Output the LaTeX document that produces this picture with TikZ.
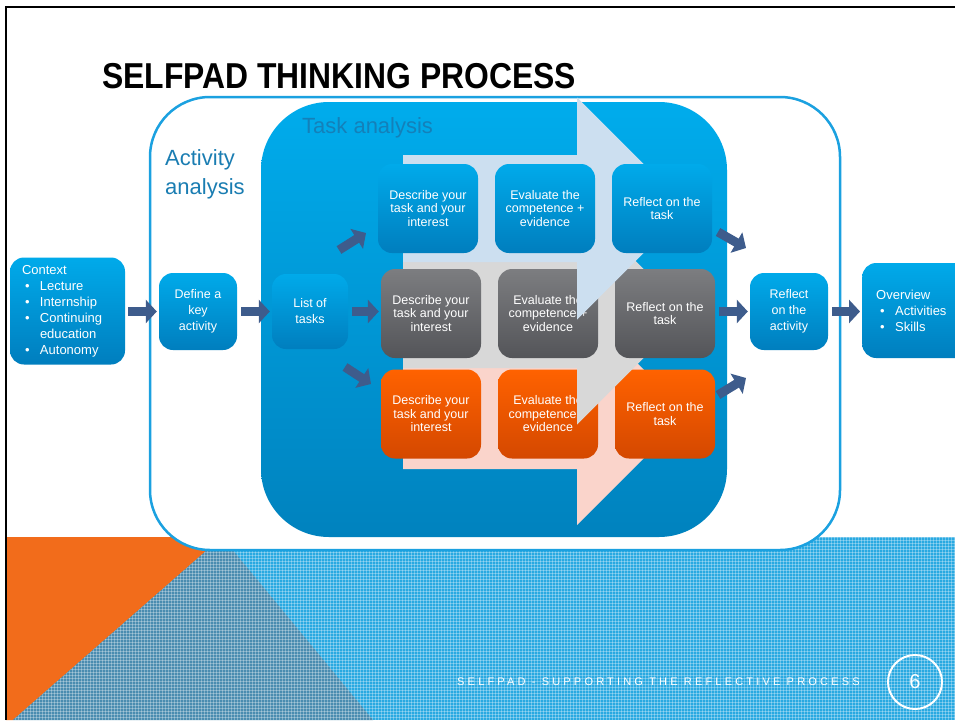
\documentclass[tikz,border=0pt]{standalone}
\usepackage{fontspec}
\setmainfont{Liberation Sans}
\usetikzlibrary{arrows.meta,patterns}

\definecolor{bandblue}{RGB}{41,169,225}
\definecolor{slideorange}{RGB}{242,108,27}
\definecolor{darkwedge}{RGB}{74,140,176}
\definecolor{actblue}{RGB}{27,161,224}
\definecolor{actlbl}{RGB}{26,125,178}
\definecolor{tasktop}{RGB}{0,172,236}
\definecolor{taskbot}{RGB}{0,130,190}
\definecolor{tasklbl}{RGB}{20,128,185}
\definecolor{bluetop}{RGB}{0,170,234}
\definecolor{bluebot}{RGB}{0,126,190}
\definecolor{greytop}{RGB}{124,125,128}
\definecolor{greybot}{RGB}{84,85,89}
\definecolor{orangetop}{RGB}{255,98,0}
\definecolor{orangebot}{RGB}{212,72,0}
\definecolor{arrlblue}{RGB}{204,223,240}
\definecolor{arrgrey}{RGB}{216,216,216}
\definecolor{arrpink}{RGB}{250,212,203}
\definecolor{blockblue}{RGB}{62,92,140}

\tikzset{
  actbox/.style={draw=actblue, line width=2.5pt, fill=white, rounded corners=60pt},
  taskbox/.style={rounded corners=68pt, top color=tasktop, bottom color=taskbot},
  stepbox/.style={rounded corners=14pt, minimum width=100pt, minimum height=89pt,
    inner sep=2pt, align=center, text=white, font=\fontsize{12.5}{13.5}\selectfont},
  bluebox/.style={stepbox, top color=bluetop, bottom color=bluebot},
  greybox/.style={stepbox, top color=greytop, bottom color=greybot},
  orangebox/.style={stepbox, top color=orangetop, bottom color=orangebot},
  sidebox/.style={rounded corners=14pt, top color=bluetop, bottom color=bluebot,
    inner sep=2pt, align=center, text=white, font=\fontsize{12.5}{16}\selectfont},
  blockarr/.style={line width=9pt, draw=blockblue, -{Triangle[length=11pt,width=23pt]}},
}
\newcommand{\blt}{\makebox[18pt][l]{\hspace{3pt}\textbullet}}

\begin{document}
\begin{tikzpicture}[x=1pt,y=-1pt]
\clip (0,0) rectangle (955,720);
\fill[white] (0,0) rectangle (955,720);
% bottom band
\fill[bandblue] (6,537) rectangle (955,720);
\fill[slideorange] (6,537) -- (222,537) -- (13,720) -- (6,720) -- cycle;
\fill[darkwedge] (222,537) -- (373,720) -- (13,720) -- cycle;
\fill[pattern=grid, pattern color=white, opacity=.3] (222,537) -- (955,537) -- (955,720) -- (13,720) -- cycle;
\draw[line width=2pt] (6,720) -- (6,7) -- (955,7);

\node[anchor=base west, inner sep=0, font=\bfseries\fontsize{36}{36}\selectfont] (title) at (102,88)
  {\scalebox{0.885}[1]{SELFPAD THINKING PROCESS}};

% activity and task analysis
\node[actbox, minimum width=690pt, minimum height=453pt] (act) at (495,323.5) {};
\node[anchor=north west, align=left, inner sep=0, text=actlbl, font=\fontsize{22}{29}\selectfont] (actname) at (165,149) {Activity\\analysis};
\node[taskbox, minimum width=466pt, minimum height=435pt] (task) at (494,319.5) {};
\node[anchor=west, inner sep=0, text=tasklbl, font=\fontsize{22}{22}\selectfont] (taskname) at (302,128) {Task analysis};

% rows: big arrow behind, then the three steps
\foreach \rw/\hc/\bt/\bb/\ac/\bc/\bx in {3/414/368/469/arrpink/orangebox/381,
    2/313.5/262/368/arrgrey/greybox/381, 1/208.5/155/262/arrlblue/bluebox/378}{
  \fill[\ac] (403,\bt) -- (577,\bt) -- (577,\hc-111) -- (688,\hc) -- (577,\hc+111) -- (577,\bb) -- (403,\bb) -- cycle;
  \node[\bc] (d\rw) at (\bx+50,\hc) {Describe your\\task and your\\interest};
  \node[\bc] (e\rw) at (\bx+167,\hc) {Evaluate the\\competence +\\evidence};
  \node[\bc] (r\rw) at (\bx+284,\hc) {Reflect on the\\task};
}

% outer boxes
\node[sidebox, minimum width=115pt, minimum height=107pt, text width=91pt, inner xsep=12pt, align=left,
  font=\fontsize{13}{16}\selectfont] (ctx) at (67.5,311)
  {Context\\\blt Lecture\\\blt Internship\\\blt Continuing\\\hspace*{18pt}education\\\blt Autonomy};
\node[sidebox, minimum width=78pt, minimum height=77pt] (def) at (198,311.5) {Define a\\key\\activity};
\node[sidebox, minimum width=76pt, minimum height=75pt] (list) at (310,311.5) {List of\\tasks};
\node[sidebox, minimum width=78pt, minimum height=77pt] (ra) at (789,311.5) {Reflect\\on the\\activity};
\node[sidebox, anchor=west, minimum width=130pt, minimum height=95pt, text width=102pt, inner xsep=14pt, align=left,
  font=\fontsize{13}{16}\selectfont] (ov) at (862,310.5)
  {Overview\\\hspace*{1pt}\blt Activities\\\hspace*{1pt}\blt Skills};

% block arrows
\coordinate (a1s) at (339,250); \coordinate (a1e) at (366,233);
\coordinate (a3s) at (345,367); \coordinate (a3e) at (371,384);
\coordinate (b1s) at (718,232); \coordinate (b1e) at (746,248);
\coordinate (b3s) at (718,395); \coordinate (b3e) at (746,378);
\draw[blockarr, shorten <=3pt, shorten >=2pt] (ctx.east |- def.west) -- (def.west);
\draw[blockarr, shorten <=4pt, shorten >=2pt] (def.east) -- (list.west);
\draw[blockarr, shorten <=4pt, shorten >=2pt] (list.east) -- (list.east -| d2.west);
\draw[blockarr] (a1s) -- (a1e);
\draw[blockarr] (a3s) -- (a3e);
\draw[blockarr, shorten <=4pt, shorten >=2pt] (r2.east |- ra.west) -- (ra.west);
\draw[blockarr] (b1s) -- (b1e);
\draw[blockarr] (b3s) -- (b3e);
\draw[blockarr, shorten <=4pt, shorten >=2pt] (ra.east) -- (ra.east -| ov.west);

% footer
\node[anchor=west, inner sep=0, text=white, font=\fontsize{11}{11}\selectfont\addfontfeature{LetterSpace=29}] (foot) at (457,682)
  {SELFPAD - SUPPORTING THE REFLECTIVE PROCESS};
\node[circle, draw=white, line width=2pt, minimum size=54pt, text=white, font=\fontsize{20}{20}\selectfont] (pgno) at (915,682) {6};
\end{tikzpicture}
\end{document}
